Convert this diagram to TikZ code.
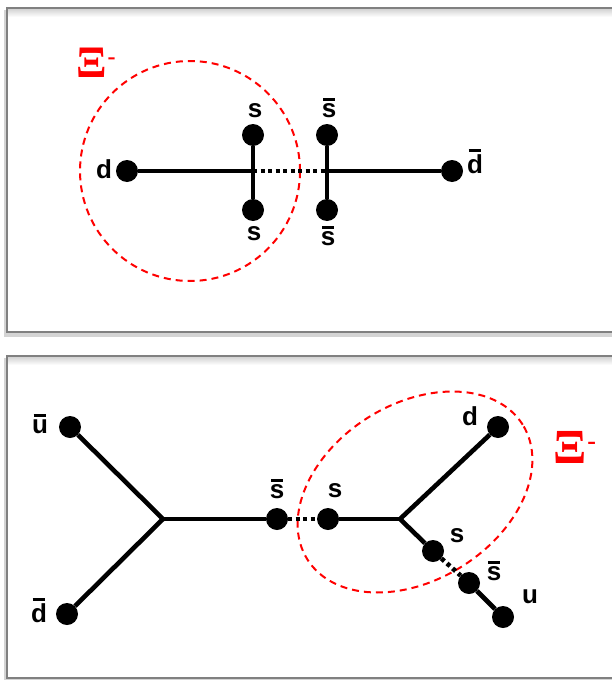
\documentclass[tikz,border=0pt]{standalone}
\usepackage{fontspec}
\setmainfont{Liberation Sans}
\newfontfamily\xifont{Liberation Serif}
\newcommand\ob[1]{\setbox0\hbox{#1}\vbox{\offinterlineskip\hbox to\wd0{\hss\vrule width 0.8\wd0 height 3pt depth 0pt\hss}\kern2.2pt\box0}}
\definecolor{frame}{HTML}{808080}
\definecolor{shadow}{HTML}{D4D4D4}
\tikzset{
  dot/.style={circle,fill=black,inner sep=0pt,minimum size=22pt},
  quark/.style={line width=4.6pt,black},
  qdots/.style={line width=4.6pt,black,dash pattern=on 4pt off 3.5pt},
  lbl/.style={anchor=base,inner sep=0pt,font=\fontsize{26}{26}\bfseries\selectfont},
  xilbl/.style={anchor=base west,inner sep=0pt,text=red},
  hadron/.style={red,line width=2pt,dash pattern=on 7pt off 5pt},
  panel/.style={draw=frame,line width=2pt,fill=white},
}
\begin{document}
\begin{tikzpicture}[x=1pt,y=-1pt]
\useasboundingbox (0,0) rectangle (611,680);
% panels
\fill[shadow] (4,10) rectangle (622,337);
\fill[shadow] (4,358) rectangle (622,683);
\draw[panel] (7,8) rectangle (625,332);
\draw[panel] (7,356) rectangle (625,678);
\shade[top color=shadow,bottom color=white] (8,9) rectangle (624,17);
\shade[top color=shadow,bottom color=white] (8,357) rectangle (624,365);

% ---------- top panel ----------
\draw[hadron] (190,171) circle [radius=110pt];
\node[dot] (d1) at (127,171) {};
\node[dot] (s1) at (253,135) {};
\node[dot] (s2) at (253,210) {};
\node[dot] (sb1) at (327,135) {};
\node[dot] (sb2) at (327,210) {};
\node[dot] (db1) at (452,171) {};
\coordinate (ja) at (253,171);
\coordinate (jb) at (327,171);
\draw[quark] (d1) -- (ja);
\draw[qdots] (ja) -- (jb);
\draw[quark] (jb) -- (db1);
\draw[quark] (s1) -- (s2);
\draw[quark] (sb1) -- (sb2);
\node[lbl] (ld1) at (104,178) {d};
\node[lbl] (ls1) at (255,117) {s};
\node[lbl] (lsb1) at (329,117) {\ob{s}};
\node[lbl] (ls2) at (254,240) {s};
\node[lbl] (lsb2) at (328,245) {\ob{s}};
\node[lbl] (ldb1) at (475,173) {\ob{d}};
\node[xilbl] (xi1) at (76,77) {\xifont\bfseries\fontsize{45}{45}\selectfont Ξ\kern1pt\raisebox{13pt}{\fontsize{24}{24}\selectfont -}};

% ---------- bottom panel ----------
\draw[hadron,rotate around={32:(415,492)}] (415,492) ellipse [x radius=127pt, y radius=88pt];
\node[dot] (ub) at (70,427) {};
\node[dot] (db2) at (67,614) {};
\coordinate (J1) at (163,519);
\node[dot] (sb3) at (277,519) {};
\node[dot] (s3) at (328,519) {};
\coordinate (J2) at (400,519);
\node[dot] (d2) at (498,427) {};
\node[dot] (s4) at (433,551) {};
\node[dot] (sb4) at (469,583) {};
\node[dot] (u) at (503,617) {};
\draw[quark] (ub) -- (J1);
\draw[quark] (db2) -- (J1);
\draw[quark] (J1) -- (sb3);
\draw[qdots] (sb3) -- (s3);
\draw[quark] (s3) -- (J2);
\draw[quark] (J2) -- (d2);
\draw[quark] (J2) -- (s4);
\draw[qdots] (s4) -- (sb4);
\draw[quark] (sb4) -- (u);
\node[lbl] (lub) at (40,433) {\ob{u}};
\node[lbl] (ldb2) at (39,622) {\ob{d}};
\node[lbl] (lsb3) at (277,498) {\ob{s}};
\node[lbl] (ls3) at (335,497) {s};
\node[lbl] (ld2) at (470,425) {d};
\node[lbl] (ls4) at (457,542) {s};
\node[lbl] (lsb4) at (494,580) {\ob{s}};
\node[lbl] (lu) at (530,603) {u};
\node[xilbl] (xi2) at (553,463) {\xifont\bfseries\fontsize{49}{49}\selectfont Ξ\kern1pt\raisebox{14pt}{\fontsize{26}{26}\selectfont -}};
\end{tikzpicture}
\end{document}
